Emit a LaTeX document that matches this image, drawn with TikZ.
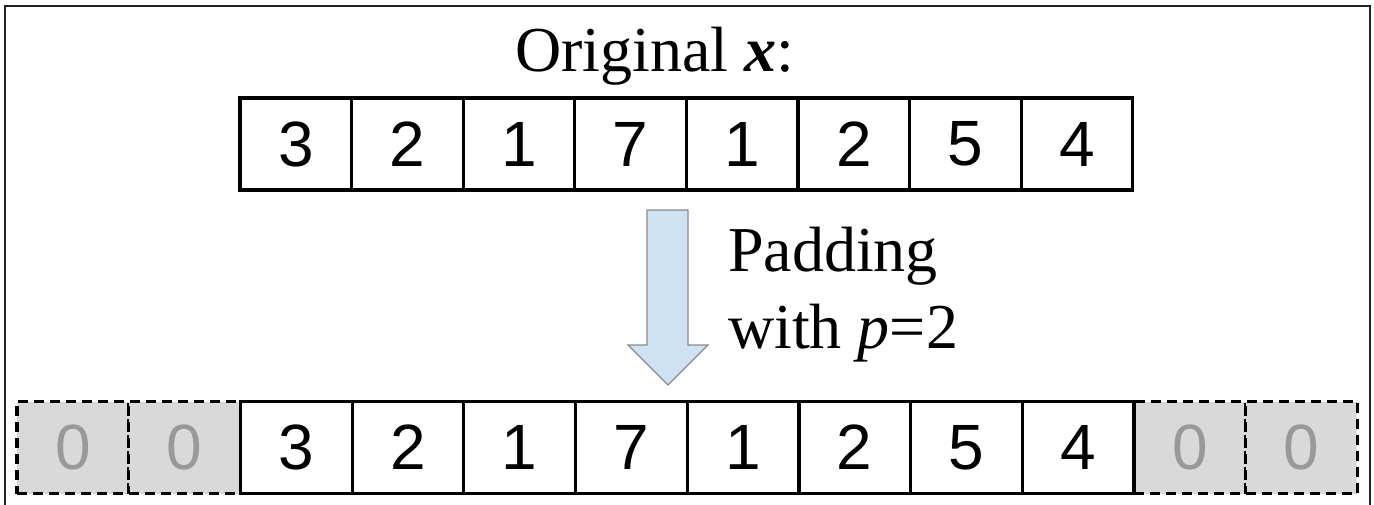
\documentclass[tikz,border=0pt]{standalone}
\usepackage{fontspec}
\setmainfont{Liberation Serif}
\newfontfamily\digitfont{Liberation Sans}
\begin{document}
\begin{tikzpicture}[x=1pt,y=-1pt,
  cell/.style={draw=black, line width=3.2pt, minimum width=111.7pt, minimum height=92pt,
    inner sep=0pt, font=\digitfont\fontsize{64}{64}\selectfont, anchor=center},
  padcell/.style={cell, draw=black, dash pattern=on 10pt off 6pt, fill=padgray, text=zerogray},
  lbl/.style={anchor=base west, inner sep=0pt, font=\fontsize{64}{70}\selectfont}
]
\definecolor{padgray}{HTML}{D9D9D9}
\definecolor{zerogray}{HTML}{999999}
\definecolor{arrowfill}{HTML}{CFE2F3}
\definecolor{arrowdraw}{HTML}{8A8A8A}
\definecolor{framecol}{HTML}{222222}
\useasboundingbox (0,0) rectangle (1374,505);
% outer frame (bottom edge outside picture)
\draw[framecol, line width=2pt] (5,505) -- (5,6) -- (1370,6) -- (1370,505);
% title
\node[lbl] (title) at (515,72) {Original \textbf{\textit{x}}:};
% top row
\foreach \v [count=\i] in {3,2,1,7,1,2,5,4} {
  \node[cell] (t\i) at ({240+111.6*(\i-0.5)},144) {\v};
}
% bottom row: padding cells first
\node[padcell] (b1) at ({17+111.7*0.5},447.5) {0};
\node[padcell] (b2) at ({17+111.7*1.5},447.5) {0};
\node[padcell] (b11) at ({17+111.7*10.5},447.5) {0};
\node[padcell] (b12) at ({17+111.7*11.5},447.5) {0};
\foreach \v [count=\i] in {3,2,1,7,1,2,5,4} {
  \pgfmathtruncatemacro{\j}{\i+2}
  \node[cell] (b\j) at ({17+111.7*(\i+1.5)},447.5) {\v};
}
% block arrow
\draw[arrowdraw, fill=arrowfill, line width=1.4pt, line join=miter]
  (647,210) -- (688,210) -- (688,345) -- (708,345) -- (668,385) -- (628,345) -- (647,345) -- cycle;
% label
\node[lbl] (pad1) at (728,272) {Padding};
\node[lbl] (pad2) at (728,348) {with \textit{p}=2};
\end{tikzpicture}
\end{document}
